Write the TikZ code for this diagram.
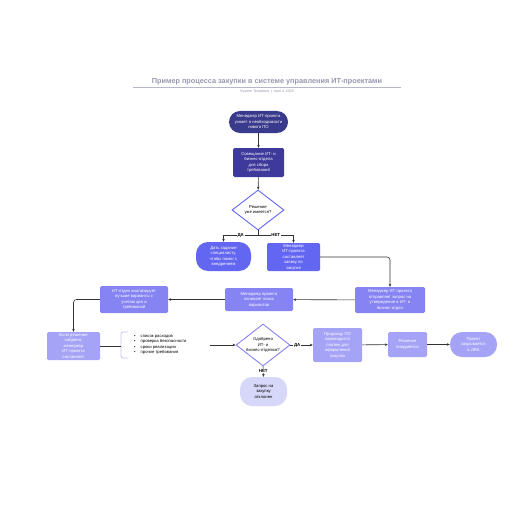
\documentclass[tikz,border=0pt]{standalone}
\usepackage{fontspec}
\setmainfont{Liberation Sans}
\usetikzlibrary{shapes.geometric,arrows.meta}

\definecolor{deepnavy}{RGB}{58,58,140}
\definecolor{deepindigo}{RGB}{62,58,156}
\definecolor{midindigo}{RGB}{99,102,241}
\definecolor{softindigo}{RGB}{134,132,243}
\definecolor{paleindigo}{RGB}{165,163,246}
\definecolor{mistindigo}{RGB}{215,215,250}
\definecolor{bracketlav}{RGB}{200,198,248}
\definecolor{titlegray}{RGB}{150,152,175}
\definecolor{linegray}{RGB}{51,51,51}

\begin{document}
\begin{tikzpicture}[
x=1pt, y=-1pt,
every node/.style={
align=center,
inner sep=1pt,
font=\fontsize{4.2}{5.5}\selectfont
},
arrow/.style={-{Stealth[length=3pt,width=2.6pt]}, line width=0.6pt, draw=linegray},
link/.style={line width=0.6pt, draw=linegray}
]

% =====================================================
% Styles
% =====================================================

\tikzstyle{pill} =
[rectangle, rounded corners=11pt,
text=white]

\tikzstyle{boxed} =
[rectangle, rounded corners=1.5pt,
text=white]

\tikzstyle{decision} =
[diamond, aspect=1.3, inner sep=0pt,
fill=white, line width=0.9pt,
text=black]

\tikzstyle{lbl} =
[fill=white, inner sep=0.6pt,
font=\fontsize{4.4}{5}\selectfont\bfseries]

\fill[white] (0,0) rectangle (516,516);
\useasboundingbox (0,0) rectangle (516,516);

% =====================================================
% Title
% =====================================================

\node (title) [font=\fontsize{7.3}{8}\selectfont\bfseries, text=titlegray] at (267,82)
{Пример процесса закупки в системе управления ИТ-проектами};

\draw [titlegray!70, line width=0.5pt] (133,87.5) -- (401,87.5);

\node (subtitle) [font=\fontsize{3.6}{4}\selectfont, text=titlegray] at (267,92)
{System Templates \,|\, April 4, 2025};

% =====================================================
% Nodes
% =====================================================

\node (learn) [pill, fill=deepnavy, minimum width=59pt, minimum height=22pt] at (258.5,122)
{Менеджер ИТ-проекта\\узнает о необходимости\\нового ПО};

\node (meeting) [boxed, fill=deepindigo, minimum width=51pt, minimum height=29pt] at (258.5,162.5)
{Совещание ИТ- и\\бизнес-отдела\\для сбора\\требований};

\node (exists) [decision, draw=midindigo, minimum width=52pt, minimum height=40pt] at (258,210)
{Решение\\уже имеется?};

\node (assign) [pill, rounded corners=12pt, fill=midindigo, minimum width=55pt, minimum height=29pt] at (223.5,256.5)
{Дать задание\\специалисту,\\чтобы помог с\\внедрением};

\node (request) [boxed, fill=midindigo, minimum width=53pt, minimum height=28pt] at (293.5,257)
{Менеджер\\ИТ-проекта\\составляет\\заявку по\\закупке};

\node (approval) [boxed, fill=softindigo, minimum width=70pt, minimum height=26pt] at (390,300)
{Менеджер ИТ-проекта\\отправляет запрос на\\утверждение в ИТ- и\\бизнес-отдел};

\node (search) [boxed, fill=softindigo, minimum width=68pt, minimum height=23pt] at (259,299.5)
{Менеджер проекта\\начинает поиск\\вариантов};

\node (analyse) [boxed, fill=softindigo, minimum width=68pt, minimum height=27pt] at (134,299.5)
{ИТ-отдел анализирует\\лучшие варианты с\\учетом цен и\\требований};

\node (found) [boxed, fill=paleindigo, minimum width=53pt, minimum height=28pt] at (73.5,346)
{Если решение\\найдено,\\менеджер\\ИТ-проекта\\составляет};

\node (criteria) [anchor=west, align=left, text=black] at (133,345)
{\textbullet\hspace{5pt}список расходов\\
\textbullet\hspace{5pt}проверка безопасности\\
\textbullet\hspace{5pt}сроки реализации\\
\textbullet\hspace{5pt}прочие требования};

\node (approved) [decision, draw=softindigo, minimum width=54pt, minimum height=42pt] at (263,345)
{Одобрено\\ИТ- и\\бизнес-отделом?};

\node (payment) [boxed, fill=paleindigo, minimum width=49pt, minimum height=34pt] at (337.5,345)
{Продавцу ПО\\переводится\\платеж для\\оформления\\покупки};

\node (deploy) [boxed, fill=paleindigo, minimum width=39pt, minimum height=25pt] at (407.5,344.5)
{Решение\\внедряется};

\node (close) [pill, rounded corners=12pt, fill=paleindigo, minimum width=47pt, minimum height=25pt] at (473.5,344.5)
{Проект\\закрывается\\в JIRA};

\node (reject) [pill, rounded corners=12pt, fill=mistindigo, text=black, minimum width=47pt, minimum height=29pt] at (263.5,391.5)
{Запрос на\\закупку\\отклонен};

\coordinate (split) at (258,235);
\coordinate (brk) at (121,346);
\coordinate (listend) at (210,345);

% bracket around the list
\draw [bracketlav, line width=0.9pt, rounded corners=2pt]
(128,332) -- (121,332) -- (121,358) -- (128,358);

% =====================================================
% Arrows
% =====================================================

\draw [arrow] (learn) -- (meeting);

\draw [arrow] (meeting) -- (exists);

\draw [link] (exists.south) -- (split);

\draw [arrow] (split) -| node [lbl, pos=0.25] {ДА} (assign.north);

\draw [arrow] (split) -| node [lbl, pos=0.25] {НЕТ} (request.north);

\draw [arrow, rounded corners=3pt] (request.east) -| (approval.north);

\draw [arrow] (approval) -- (search);

\draw [arrow] (search) -- (analyse);

\draw [arrow, rounded corners=3pt] (analyse.west) -| (found.north);

\draw [link] (found.east) -- (brk);

\draw [arrow] (listend) -- (approved.west);

\draw [arrow] (approved.east) -- node [lbl, pos=0.3] {ДА} (payment.west);

\draw [arrow] (payment) -- (deploy);

\draw [arrow] (deploy) -- (close);

\draw [arrow] (approved.south) -- node [lbl, pos=0.45] {НЕТ} (reject.north);

\end{tikzpicture}
\end{document}
